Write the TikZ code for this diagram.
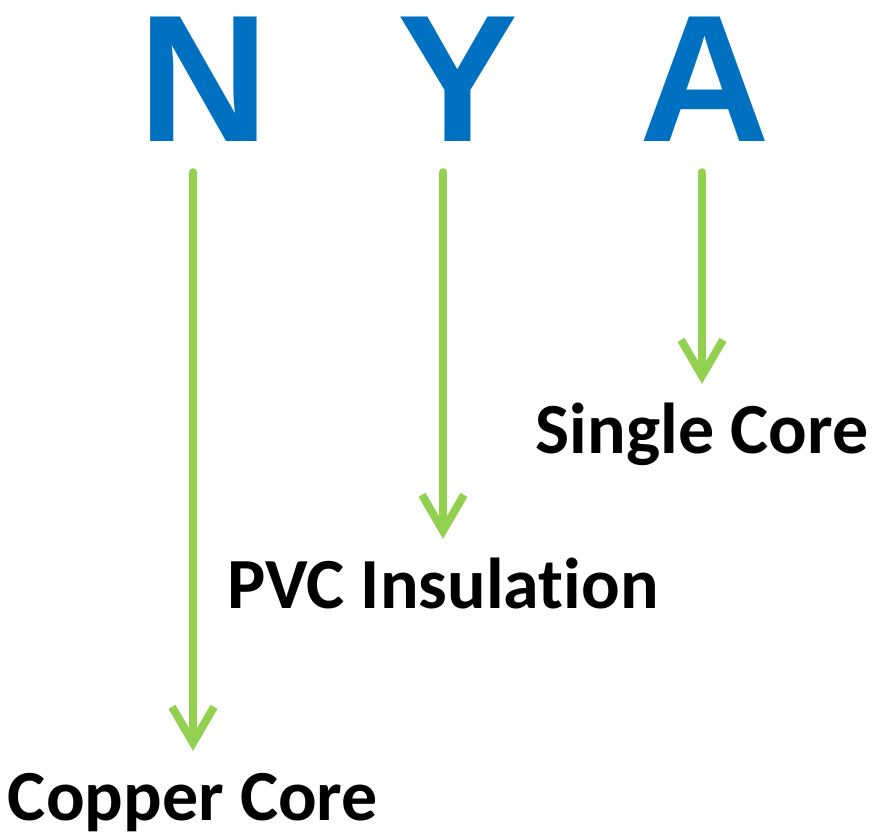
\documentclass[tikz,border=0pt]{standalone}
\usepackage{fontspec}
\setmainfont{Carlito}[Ligatures=NoCommon]
\newfontfamily\capsfont{Liberation Sans}
\usetikzlibrary{arrows.meta}
\definecolor{codeblue}{HTML}{0070C0}
\definecolor{arrowgreen}{HTML}{92D050}

\begin{document}
\begin{tikzpicture}[x=1pt,y=-1pt,line cap=round,
  letter/.style={inner sep=0pt,anchor=base,text=codeblue,font=\capsfont\bfseries\fontsize{181}{181}\selectfont},
  meaning/.style={inner sep=0pt,anchor=base,text height=47pt,font=\bfseries\fontsize{72}{72}\selectfont},
  pointer/.style={arrowgreen,line width=8pt,shorten <=30pt,shorten >=22pt,
    -{Straight Barb[length=36pt,width=42pt]}}]
\useasboundingbox (0,0) rectangle (879,840);
% code letters
\node[letter] (nN) at (204,142) {N};
\node[letter] (nY) at (458,142) {Y};
\node[letter] (nA) at (705,142) {A};
% meanings
\node[meaning] (copper) at (193,820) {Copper Core};
\node[meaning] (pvc) at (443,608) {PVC Insulation};
\node[meaning] (single) at (702,453) {Single Core};
% arrows
\draw[pointer] (copper.north |- nN.south) -- (copper.north);
\draw[pointer] (pvc.north |- nY.south) -- (pvc.north);
\draw[pointer] (single.north |- nA.south) -- (single.north);
\end{tikzpicture}
\end{document}
